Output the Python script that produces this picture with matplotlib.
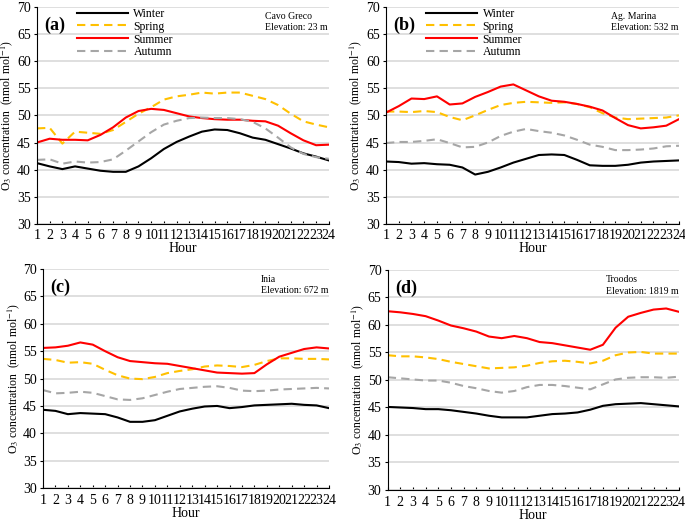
import numpy as np
import matplotlib
matplotlib.use('Agg')
import matplotlib.pyplot as plt

plt.rcParams['font.family'] = ['Liberation Serif', 'DejaVu Serif']
plt.rcParams['mathtext.fontset'] = 'stix'

############################# DATA ###################################
hours = list(range(1, 25))
seasons = ['Winter', 'Spring', 'Summer', 'Autumn']

# (a) Cavo Greco
a_winter = [41.2, 40.6, 40.1, 40.6, 40.2, 39.8, 39.6, 39.6, 40.6, 42.1, 43.8, 45.1,
            46.1, 47.0, 47.4, 47.3, 46.7, 45.9, 45.5, 44.7, 43.9, 43.0, 42.4, 41.7]
a_spring = [47.6, 47.7, 44.8, 47.0, 46.8, 46.6, 47.3, 48.8, 50.3, 51.5, 52.9, 53.5,
            53.8, 54.2, 54.0, 54.2, 54.2, 53.6, 53.0, 51.9, 50.3, 48.9, 48.3, 47.8]
a_summer = [45.0, 45.7, 45.5, 45.5, 45.4, 46.4, 47.8, 49.6, 50.8, 51.2, 51.0, 50.4,
            49.8, 49.5, 49.3, 49.2, 49.2, 49.0, 48.9, 48.1, 46.7, 45.4, 44.5, 44.6]
a_autumn = [41.8, 41.9, 41.1, 41.5, 41.3, 41.4, 41.9, 43.5, 45.2, 46.9, 48.3, 49.0,
            49.5, 49.6, 49.5, 49.5, 49.3, 48.8, 47.6, 45.9, 44.1, 42.9, 42.3, 42.0]

# (b) Ag. Marina
b_winter = [41.5, 41.4, 41.1, 41.2, 41.0, 40.9, 40.4, 39.1, 39.6, 40.4, 41.3, 42.0,
            42.7, 42.8, 42.7, 41.8, 40.8, 40.7, 40.7, 40.9, 41.3, 41.5, 41.6, 41.7]
b_spring = [50.7, 50.7, 50.6, 50.8, 50.6, 49.7, 49.1, 50.0, 51.0, 51.9, 52.3, 52.5,
            52.4, 52.3, 52.4, 52.1, 51.5, 50.4, 49.6, 49.3, 49.4, 49.5, 49.6, 50.0]
b_summer = [50.5, 51.7, 53.1, 53.0, 53.5, 52.0, 52.2, 53.4, 54.3, 55.3, 55.7, 54.6,
            53.5, 52.7, 52.5, 52.1, 51.6, 50.9, 49.5, 48.2, 47.6, 47.8, 48.1, 49.3]
b_autumn = [44.9, 45.1, 45.1, 45.3, 45.6, 44.9, 44.1, 44.2, 45.0, 46.2, 47.0, 47.5,
            47.1, 46.8, 46.3, 45.5, 44.6, 44.2, 43.6, 43.6, 43.7, 43.9, 44.3, 44.4]

# (c) Inia
c_winter = [44.3, 44.1, 43.5, 43.7, 43.6, 43.5, 42.9, 42.1, 42.1, 42.4, 43.2, 44.0,
            44.5, 44.9, 45.0, 44.6, 44.8, 45.1, 45.2, 45.3, 45.4, 45.2, 45.1, 44.6]
c_spring = [53.6, 53.4, 52.9, 53.0, 52.7, 51.6, 50.6, 50.0, 49.9, 50.3, 51.0, 51.4,
            51.7, 52.2, 52.4, 52.3, 52.1, 52.5, 53.2, 53.7, 53.7, 53.6, 53.6, 53.5]
c_summer = [55.6, 55.7, 56.0, 56.6, 56.2, 55.0, 53.9, 53.2, 53.0, 52.8, 52.7, 52.3,
            51.9, 51.5, 51.1, 51.0, 50.9, 51.0, 52.6, 54.0, 54.7, 55.4, 55.7, 55.5]
c_autumn = [47.9, 47.3, 47.4, 47.6, 47.4, 46.8, 46.2, 46.1, 46.4, 47.0, 47.6, 48.1,
            48.3, 48.5, 48.6, 48.3, 47.8, 47.7, 47.8, 48.0, 48.1, 48.2, 48.3, 48.2]

# (d) Troodos
d_winter = [45.1, 45.0, 44.9, 44.7, 44.7, 44.5, 44.2, 43.9, 43.5, 43.2, 43.2, 43.2,
            43.5, 43.8, 43.9, 44.1, 44.6, 45.3, 45.6, 45.7, 45.8, 45.6, 45.4, 45.2]
d_spring = [54.5, 54.3, 54.3, 54.1, 53.8, 53.3, 52.9, 52.5, 52.1, 52.2, 52.3, 52.6,
            53.1, 53.4, 53.5, 53.3, 53.0, 53.5, 54.5, 55.0, 55.1, 54.8, 54.8, 54.8]
d_summer = [62.5, 62.3, 62.0, 61.6, 60.8, 59.9, 59.4, 58.8, 57.9, 57.6, 58.0, 57.6,
            56.9, 56.7, 56.3, 55.9, 55.5, 56.4, 59.5, 61.5, 62.2, 62.8, 63.0, 62.4]
d_autumn = [50.5, 50.3, 50.1, 49.9, 49.9, 49.5, 48.9, 48.5, 48.0, 47.7, 48.0, 48.7,
            49.1, 49.1, 48.9, 48.6, 48.3, 49.2, 50.1, 50.4, 50.5, 50.5, 50.4, 50.6]

panel_labels = ['(a)', '(b)', '(c)', '(d)']
stations = ['Cavo Greco\nElevation: 23 m', 'Ag. Marina\nElevation: 532 m',
            'Inia\nElevation: 672 m', 'Troodos\nElevation: 1819 m']
panel_data = [[a_winter, a_spring, a_summer, a_autumn],
              [b_winter, b_spring, b_summer, b_autumn],
              [c_winter, c_spring, c_summer, c_autumn],
              [d_winter, d_spring, d_summer, d_autumn]]

############################# STYLE ###################################
styles = {'Winter': dict(color='black', ls='-', lw=1.5),
          'Spring': dict(color='#FFC000', ls=(0, (4, 2.5)), lw=1.5),
          'Summer': dict(color='#FF0000', ls='-', lw=1.5),
          'Autumn': dict(color='#A6A6A6', ls=(0, (4, 2.5)), lw=1.5)}

positions = [[0.054, 0.571, 0.426, 0.416],
             [0.5635, 0.571, 0.4277, 0.416],
             [0.0628, 0.065, 0.4175, 0.4195],
             [0.566, 0.0613, 0.425, 0.4215]]
station_x = [0.78, 0.768, 0.762, 0.75]

fig = plt.figure(figsize=(6.85, 5.22), dpi=100)

for k in range(4):
    ax = fig.add_axes(positions[k])
    for name, vals in zip(seasons, panel_data[k]):
        ax.plot(hours, vals, label=name, **styles[name])
    ax.set_xlim(1, 24)
    ax.set_ylim(30, 70)
    ax.set_xticks(hours)
    ax.set_yticks(np.arange(30, 71, 5))
    ax.grid(axis='y', color='#D9D9D9', lw=1.2)
    ax.set_axisbelow(True)
    for s in ['top', 'right']:
        ax.spines[s].set_visible(False)
    ax.tick_params(axis='x', direction='in', length=2.5, labelsize=10, pad=4)
    ax.tick_params(axis='y', direction='out', length=2.5, labelsize=10, pad=2)
    ax.set_xlabel('Hour', fontsize=10, labelpad=0)
    ax.set_ylabel('O$_3$ concentration  (nmol mol$^{-1}$)', fontsize=8.5, labelpad=1)
    ax.text(0.025, 0.955, panel_labels[k], transform=ax.transAxes,
            fontsize=13, fontweight='bold', va='top', ha='left')
    ax.text(station_x[k], 0.975, stations[k], transform=ax.transAxes,
            fontsize=7, va='top', ha='left', linespacing=1.3)
    if k < 2:
        ax.legend(loc='upper left', bbox_to_anchor=(0.1, 1.045), frameon=False,
                  fontsize=8.5, handlelength=4.3, labelspacing=0.08,
                  handletextpad=0.5)

plt.savefig('out.png', dpi=100)
